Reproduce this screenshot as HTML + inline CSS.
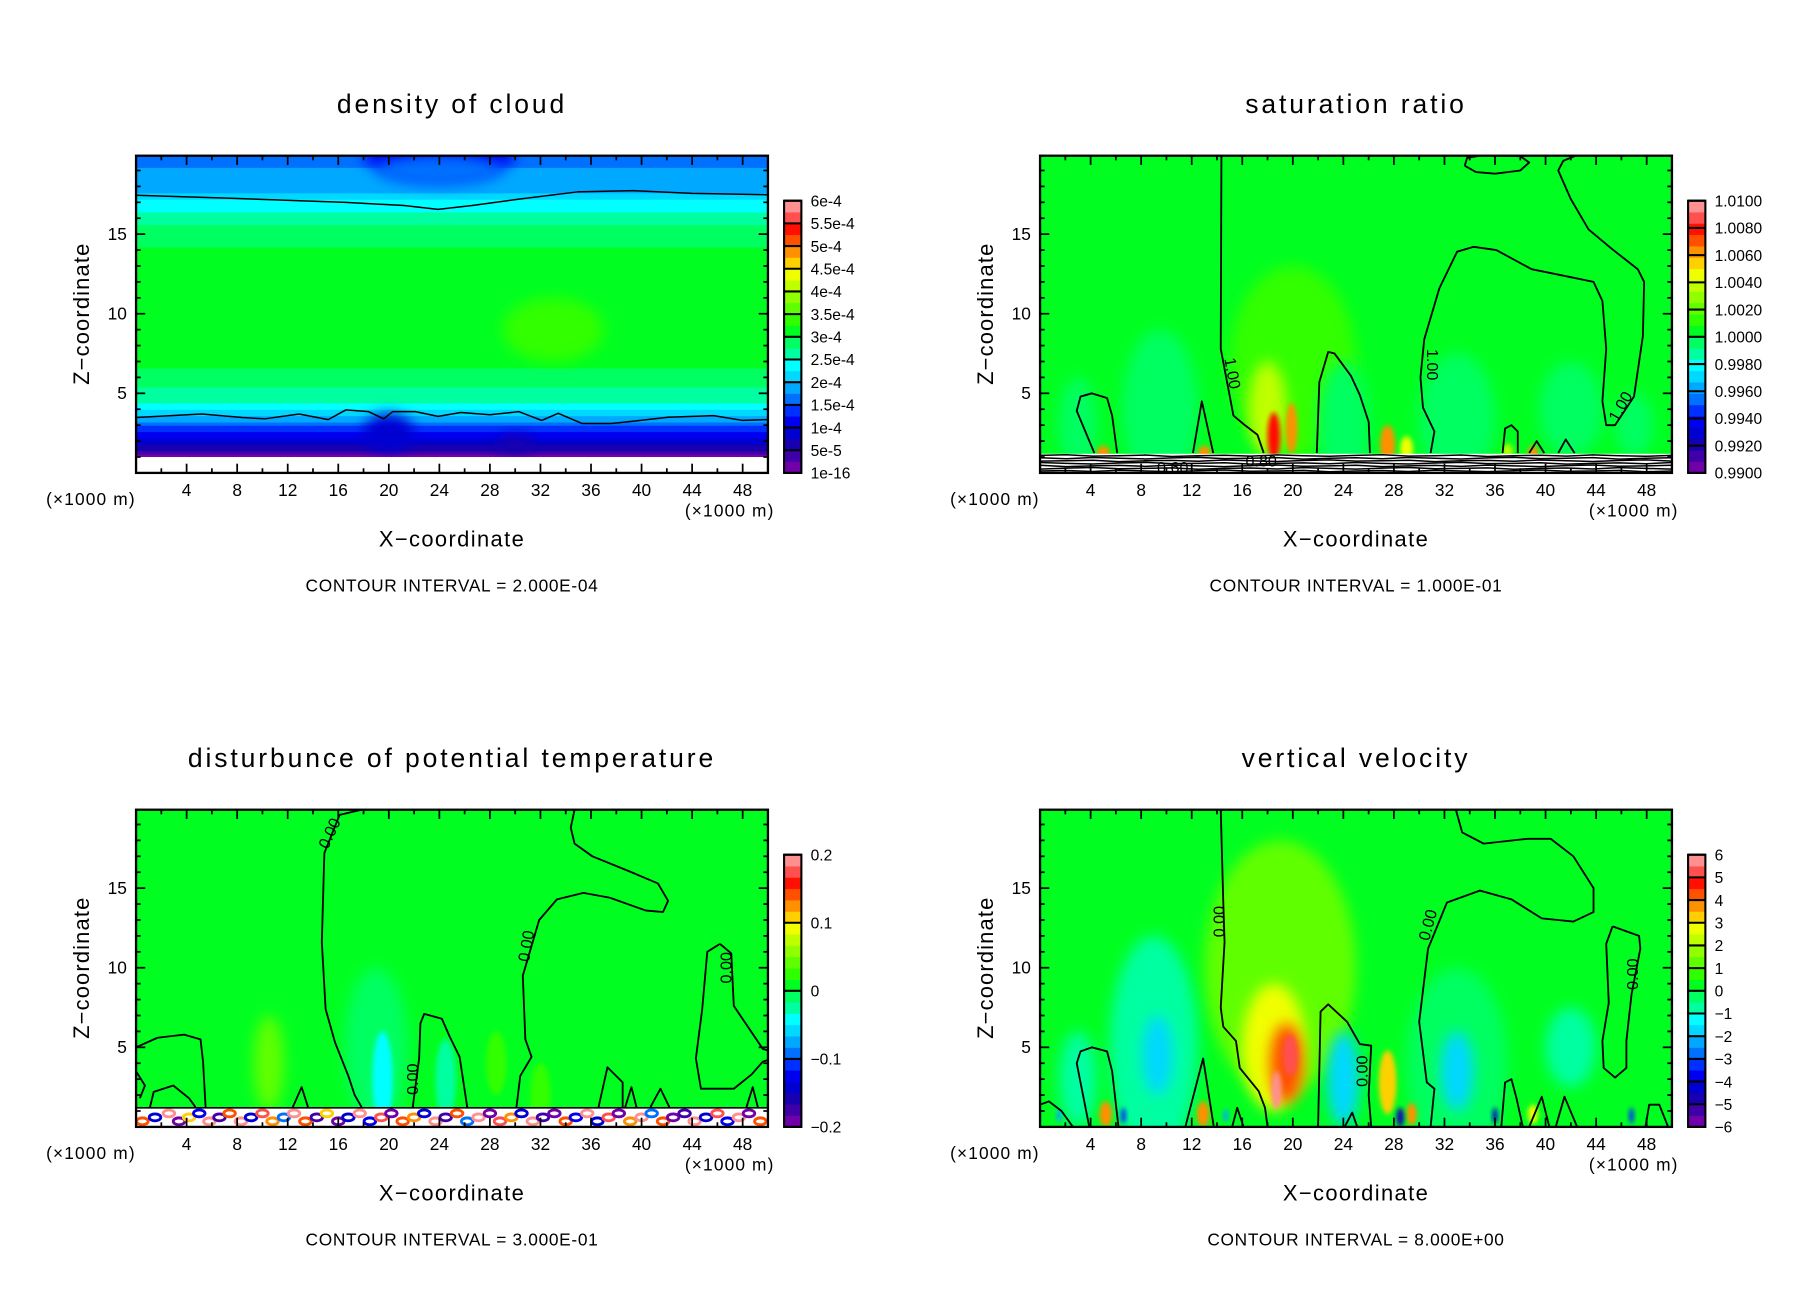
<!DOCTYPE html>
<html><head><meta charset="utf-8"><style>
html,body{margin:0;padding:0;background:#fff;}
svg{display:block;}
text{font-family:"Liberation Sans",sans-serif;fill:#000;}
</style></head><body>
<svg id="chart" width="1808" height="1308" viewBox="0 0 1568 1134" preserveAspectRatio="none" xmlns="http://www.w3.org/2000/svg">
<defs>
<filter id="bl" x="-50%" y="-50%" width="200%" height="200%"><feGaussianBlur stdDeviation="6"/></filter>
<filter id="bs" x="-50%" y="-50%" width="200%" height="200%"><feGaussianBlur stdDeviation="2"/></filter>
</defs>
</svg>
<script>
// ---------- data ----------
const CMAP=['#7000a8','#4000a8','#1800b0','#0000d0','#0000f0','#0030ff','#0070ff','#00a8ff','#00d8ff','#00ffff','#00ffa0','#00ff60','#00ff20','#30ff00','#60ff00','#90ff00','#c0ff00','#f0ff00','#ffd000','#ff9000','#ff5000','#ff1000','#ff5050','#ff9090'];
// panel 1: density of cloud (units 1e-4)
const p1ProfZ=[1.0,1.4,2.0,2.5,3.0,3.5,4.0,5.0,6.0,7.0,8.0,10.0,12.0,14.0,15.0,16.0,17.0,17.5,18.0,19.0,20.0];
const p1ProfV=[0.1,0.5,1.0,1.3,1.6,2.0,2.4,2.7,2.9,3.1,3.2,3.2,3.1,3.0,2.9,2.6,2.3,2.0,1.9,1.75,1.55];
const p1BlobX=[33,24,24,20,30];
const p1BlobZ=[9,20,19,2.5,1.8];
const p1BlobRX=[4,6,5,2,1.5];
const p1BlobRZ=[2,1.5,1,1.2,0.6];
const p1BlobV=[3.45,1.1,1.5,0.9,0.6];
const p1Upper=[[0,17.44],[7.5,17.25],[16.6,17.0],[21.2,16.8],[23.9,16.56],[26.6,16.8],[30.3,17.2],[34.9,17.65],[39.4,17.73],[44,17.56],[50,17.48]];
const p1Lower=[[0,3.48],[5.2,3.7],[8.4,3.48],[10.2,3.4],[12.9,3.7],[15.2,3.35],[16.6,3.96],[18.4,3.85],[19.6,3.4],[20.3,3.85],[22.1,3.85],[23.9,3.55],[25.7,3.8],[28,3.65],[30.3,3.85],[32.1,3.3],[33.4,3.75],[35.3,3.1],[37.6,3.1],[39.4,3.25],[42.1,3.5],[45.7,3.6],[48,3.3],[50,3.35]];
// panel 2: saturation ratio
const p2BlobX=[20,9.5,24,33,42,3,47,18,18.5,19.9,27.5,29,5,13,39,37];
const p2BlobZ=[7,4,3,3.5,4,3,3,4,2.3,2.8,1.8,1.5,1.3,1.3,1.3,1.4];
const p2BlobRX=[5,3,2,3,2.5,1.5,1.5,1.5,0.5,0.45,0.6,0.5,0.5,0.5,0.4,0.4];
const p2BlobRZ=[6,5,4,4,3,3,2,3,1.5,1.6,1.2,0.8,0.4,0.4,0.4,0.4];
const p2BlobV=[1.0012,0.9992,0.9992,0.9992,0.9993,0.9993,0.9993,1.004,1.008,1.006,1.006,1.005,1.006,1.006,1.006,1.004];
const p2Lines=[
 [[14.35,20],[14.3,7.8],[15.3,3.6],[16.2,3],[17.2,2.4],[17.7,1.25]],
 [[21.9,1.25],[22.1,5.7],[22.8,7.6],[23.3,7.5],[24.6,6.1],[25.3,4.9],[26,3.2],[26.1,1.25]],
 [[30.9,1.25],[31.2,2.6],[30.3,4.1],[30.1,6],[30.4,8.4],[31.6,11.6],[33,13.9],[34.3,14.2],[36.1,14.0],[38.9,12.8],[42,12.3],[43.8,12],[44.5,10.8],[44.8,7.8],[44.5,4.5],[44.8,3],[45.5,3],[47,4.8],[47.7,8.6],[47.8,12],[47.3,12.8],[45.2,14.1],[43.4,15.3],[42,17.2],[41,19],[41.4,19.6],[42.6,20]],
 [[33.6,19.3],[34.5,18.9],[36,18.8],[38,19.0],[38.7,19.5],[38,19.9],[35,19.95],[33.8,19.8],[33.6,19.3]],
 [[4.3,1.25],[2.9,3.9],[3.2,4.8],[4.1,5],[5.3,4.7],[5.7,3.6],[6.1,1.25]],
 [[12.1,1.25],[12.8,4.5],[13.7,1.25]],
 [[36.6,1.25],[36.8,2.8],[37.3,3.0],[37.8,2.6],[37.8,1.25]],
 [[38.7,1.25],[39.3,2.0],[39.9,1.25]],
 [[41.0,1.25],[41.6,2.1],[42.3,1.25]]
];
const p2HatchZ=[0.12,0.28,0.44,0.6,0.76,0.92,1.08];
const p2Wiggle=[0,0.03,-0.03,0.05,0,-0.04,0.02,0.06,-0.02,0,0.04,-0.05];
// panel 3: disturbance of potential temperature
const p3BlobX=[10.5,28.5,32,19,19.5,24.5];
const p3BlobZ=[4,4,2,5,3,3];
const p3BlobRX=[1.2,0.8,0.8,2.5,0.8,0.8];
const p3BlobRZ=[3,2,2,5,3,2.5];
const p3BlobV=[0.035,0.03,0.03,-0.015,-0.04,-0.02];
const p3NoiseX=[0.5,1.5,2.6,3.4,4.2,5.0,5.8,6.6,7.4,8.3,9.1,10.0,10.8,11.7,12.5,13.4,14.3,15.1,16.0,16.8,17.7,18.5,19.4,20.2,21.1,22.0,22.8,23.7,24.5,25.4,26.2,27.1,28.0,28.8,29.7,30.5,31.4,32.2,33.1,34.0,34.8,35.7,36.5,37.4,38.2,39.1,40.0,40.8,41.7,42.5,43.4,44.2,45.1,46.0,46.8,47.7,48.5,49.4];
const p3NoiseV=[0.15,-0.15,0.2,-0.2,0.1,-0.12,0.2,-0.18,0.15,0.2,-0.15,0.18,0.12,-0.1,0.2,0.15,-0.18,0.1,-0.2,-0.15,0.2,-0.12,0.18,-0.2,0.15,0.12,-0.15,0.2,-0.18,0.15,-0.1,0.2,-0.2,0.18,0.12,-0.15,0.2,-0.18,-0.2,0.15,-0.12,0.2,-0.15,0.18,-0.2,0.12,0.2,-0.1,0.15,-0.2,-0.18,0.2,-0.15,0.18,-0.12,0.2,-0.2,0.15];
const p3Lines=[
 [[17.85,19.93],[16.1,19.6],[14.9,17.2],[14.7,11.6],[15,7.4],[15.75,5.3],[16.8,3.2],[17.3,2.0],[17.85,1.25]],
 [[26.2,1.25],[25.6,4.4],[24.8,5.7],[24.2,6.8],[22.8,7.1],[22.5,6.5],[22.4,4.3],[22.0,1.9],[21.9,1.25]],
 [[30.1,1.25],[30.4,3.2],[31.3,4.4],[30.8,5.5],[30.6,9.5],[31.9,13],[33.3,14.3],[35.4,14.7],[37.5,14.4],[40.3,13.6],[41.7,13.5],[42.1,14.2],[41.3,15.3],[38.9,16.1],[36.1,17],[34.7,17.8],[34.4,18.8],[34.7,19.93]],
 [[46.2,11.5],[47.1,10.9],[47.3,7.6],[49.6,4.9],[50,4.8]],
 [[50,4.2],[49.6,4.1],[48.7,3.3],[47.3,2.4],[44.7,2.4],[44.3,4.3],[44.8,7.4],[45.2,11],[46.2,11.5]],
 [[0,5],[1.7,5.6],[3.8,5.8],[5.1,5.5],[5.3,4.1],[5.5,1.25]],
 [[1.1,1.25],[1.4,2.2],[2.95,2.6],[4.2,1.8],[4.7,1.25]],
 [[12.4,1.25],[13.1,2.5],[13.6,1.25]],
 [[36.6,1.25],[37.3,3.75],[38.5,2.8],[38.5,1.25]],
 [[38.7,1.25],[39.2,2.5],[39.6,1.25]],
 [[40.7,1.25],[41.5,2.4],[42.2,1.25]],
 [[48.3,1.25],[48.8,2.5],[49.2,1.25]],
 [[0,3.5],[0.7,2.6],[0.3,1.8]]
];
// panel 4: vertical velocity
const p4BlobX=[19,9,9.3,24,33,33,42,3,18.5,19.5,19.8,18.7,27.5,29.4,5.2,12.9,39,6.6,28.5,36,46.8,1.5,14.7];
const p4BlobZ=[10,5,4.5,3,4,3.5,5,3,5,4,4.5,2.3,2.8,0.8,0.8,0.8,0.8,0.7,0.6,0.7,0.7,0.7,0.7];
const p4BlobRX=[6,3.5,1.2,1.3,4,1.3,2,1.5,2.5,1.3,0.6,0.4,0.7,0.4,0.5,0.5,0.4,0.2,0.3,0.2,0.2,0.2,0.2];
const p4BlobRZ=[8,7,2.5,3,6,2.5,2.5,3,4,2.5,1.3,1.2,2,0.7,0.8,0.8,0.6,0.5,0.6,0.5,0.5,0.4,0.4];
const p4BlobV=[1.1,-0.6,-2.0,-1.6,-0.5,-1.6,-0.9,-0.6,2.5,4,5,6,3,3.5,3.5,3.5,2.5,-3.5,-5,-4.5,-3.5,-2.5,-2.5];
const p4Lines=[
 [[14.3,19.93],[14.5,14.1],[14.6,11.6],[14.3,7.5],[14.5,6.3],[15.5,5.4],[15.8,3.7],[17.3,2.25],[17.8,1.2],[18,0]],
 [[22,0],[22.2,7.25],[22.8,7.7],[24.3,6.6],[25.3,5.2],[26.2,5.1],[26.0,2.0],[26.2,0]],
 [[30.9,0],[31.2,2.4],[30.6,2.8],[30,6.6],[30.7,11.2],[32.2,14.1],[34.8,14.85],[37.3,14.3],[39.7,13.1],[42.2,12.9],[43.8,13.5],[43.8,15],[42.2,17],[40.4,18.1],[38.6,18.1],[35.1,17.8],[33.4,18.5],[32.9,19.93]],
 [[45.3,12.6],[47.4,12],[47.5,11.2],[46.8,8.3],[46.4,5.4],[46.4,3.7],[45.5,3.1],[44.6,3.7],[44.5,5.4],[45,7.8],[44.8,11.5],[45.3,12.6]],
 [[0,1.4],[0.7,1.6],[1.7,1.0],[2.6,0]],
 [[3.9,0],[2.9,4.0],[3.2,4.75],[4.1,5],[5.3,4.75],[5.7,3.5],[6.2,0]],
 [[11.5,0],[12.9,4.3],[13.75,0]],
 [[15.2,0],[15.6,1.2],[16.1,0]],
 [[24.1,0],[24.7,0.9],[25.1,0]],
 [[36.5,0],[36.8,2.8],[37.3,3.0],[37.7,1.8],[38.2,0]],
 [[38.7,0],[39.7,1.9],[40.3,0]],
 [[40.8,0],[41.5,1.9],[42.5,0]],
 [[47.9,0],[48.2,1.4],[49,1.4],[49.7,0]]
];

// ---------- helpers ----------
const NS='http://www.w3.org/2000/svg';
const svg=document.getElementById('chart');
const W=548,H=275;
function mk(tag,attrs,parent){const e=document.createElementNS(NS,tag);for(const k in attrs)e.setAttribute(k,attrs[k]);(parent||svg).appendChild(e);return e;}
function cmap(t){let i=Math.floor(t*24);if(i<0)i=0;if(i>23)i=23;return CMAP[i];}
function xs(p,km){return p.ox+km/50*W;}
function zs(p,z){return p.oy+H-z*13.8;}
function txt(s,x,y,size,anchor,parent,extra){const t=mk('text',Object.assign({x:x,y:y,'font-size':size,'text-anchor':anchor||'middle'},extra||{}),parent);t.textContent=s;return t;}

const panels=[
 {key:'cloud-density',ox:118,oy:135,title:'density of cloud',ci:'2.000E-04',bg:3.1,tf:v=>v/6,
  cb:['6e-4','5.5e-4','5e-4','4.5e-4','4e-4','3.5e-4','3e-4','2.5e-4','2e-4','1.5e-4','1e-4','5e-5','1e-16']},
 {key:'saturation-ratio',ox:902,oy:135,title:'saturation ratio',ci:'1.000E-01',bg:1.0003,tf:v=>(v-0.99)/0.02,
  cb:['1.0100','1.0080','1.0060','1.0040','1.0020','1.0000','0.9980','0.9960','0.9940','0.9920','0.9900']},
 {key:'potential-temperature',ox:118,oy:702,title:'disturbunce of potential temperature',ci:'3.000E-01',bg:0.004,tf:v=>(v+0.2)/0.4,
  cb:['0.2','0.1','0','\u22120.1','\u22120.2']},
 {key:'vertical-velocity',ox:902,oy:702,title:'vertical velocity',ci:'8.000E+00',bg:0.1,tf:v=>(v+6)/12,
  cb:['6','5','4','3','2','1','0','\u22121','\u22122','\u22123','\u22124','\u22125','\u22126']}
];

function drawBlobs(p,g,X,Z,RX,RZ,V){
 for(let i=0;i<X.length;i++){
  const e=mk('ellipse',{cx:xs(p,X[i]),cy:zs(p,Z[i]),rx:RX[i]*W/50,ry:RZ[i]*13.8,fill:cmap(p.tf(V[i])),filter:(RX[i]<1?'url(#bs)':'url(#bl)')},g);
  
  
 }
}
function drawLine(p,g,pts,w){
 const d=pts.map((q,i)=>(i?'L':'M')+xs(p,q[0]).toFixed(1)+','+zs(p,q[1]).toFixed(1)).join(' ');
 const e=mk('path',{d:d,fill:'none',stroke:'#000','stroke-width':w||1.6,'stroke-linejoin':'round'},g);
 
 
}
function clabel(p,g,s,x,z,rot){
 const t=txt(s,xs(p,x),zs(p,z),14,'middle',g,{transform:'rotate('+rot+' '+xs(p,x)+' '+zs(p,z)+')'});
 
 
}

panels.forEach((p,pi)=>{
 const g=mk('g',{});
 
 
 const cid='clip'+pi;
 const cp=mk('clipPath',{id:cid},g);mk('rect',{x:p.ox,y:p.oy,width:W,height:H},cp);
 const f=mk('g',{'clip-path':'url(#'+cid+')'},g);
 
 
 mk('rect',{x:p.ox,y:p.oy,width:W,height:H,fill:cmap(p.tf(p.bg))},f);
 if(pi===0){
  mk('rect',{x:p.ox,y:p.oy,width:W,height:H,fill:'#fff'},f);
  for(let z=1.0;z<20;z+=0.2){
   let k=0;while(k<p1ProfZ.length-2&&p1ProfZ[k+1]<z)k++;
   const a=(z-p1ProfZ[k])/(p1ProfZ[k+1]-p1ProfZ[k]);
   const v=p1ProfV[k]+Math.max(0,Math.min(1,a))*(p1ProfV[k+1]-p1ProfV[k]);
   const r=mk('rect',{x:p.ox,y:zs(p,z+0.2)-0.5,width:W,height:0.2*13.8+1,fill:cmap(p.tf(v))},f);
   
   
  }
  drawBlobs(p,f,p1BlobX,p1BlobZ,p1BlobRX,p1BlobRZ,p1BlobV);
  mk('rect',{x:p.ox,y:zs(p,1.0),width:W,height:14,fill:'#fff'},f);
  drawLine(p,f,p1Upper,1.3);drawLine(p,f,p1Lower,1.3);
 }
 if(pi===1){
  drawBlobs(p,f,p2BlobX,p2BlobZ,p2BlobRX,p2BlobRZ,p2BlobV);
  mk('rect',{x:p.ox,y:zs(p,1.2),width:W,height:1.2*13.8,fill:'#fff'},f);
  p2HatchZ.forEach((hz,j)=>{
   const pts=[];for(let i=0;i<=24;i++)pts.push([i*50/24,hz+p2Wiggle[(i+j*5)%p2Wiggle.length]]);
   drawLine(p,f,pts,1.3);
  });
  p2Lines.forEach(l=>drawLine(p,f,l));
  clabel(p,f,'1.00',14.8,6.2,80);clabel(p,f,'1.00',30.6,6.8,90);clabel(p,f,'1.00',46.3,4.0,-60);
  clabel(p,f,'0.60',10.5,0.0,0);clabel(p,f,'0.80',17.5,0.4,0);
 }
 if(pi===2){
  drawBlobs(p,f,p3BlobX,p3BlobZ,p3BlobRX,p3BlobRZ,p3BlobV);
  mk('rect',{x:p.ox,y:zs(p,1.25),width:W,height:1.25*13.8,fill:'#fff'},f);
  for(let i=0;i<p3NoiseX.length;i++){
   const e=mk('ellipse',{cx:xs(p,p3NoiseX[i]),cy:zs(p,0.6+0.25*((i%3)-1)),rx:5,ry:3,fill:'none',stroke:cmap(p.tf(p3NoiseV[i])),'stroke-width':2.5},f);
   
   
  }
  drawLine(p,f,[[0,1.2],[50,1.2]],1.4);
  p3Lines.forEach(l=>drawLine(p,f,l));
  clabel(p,f,'0.00',15.7,18.3,-65);clabel(p,f,'0.00',31.3,11.3,-80);clabel(p,f,'0.00',47.1,10.0,-90);clabel(p,f,'0.00',22.3,3.0,-90);
 }
 if(pi===3){
  drawBlobs(p,f,p4BlobX,p4BlobZ,p4BlobRX,p4BlobRZ,p4BlobV);
  p4Lines.forEach(l=>drawLine(p,f,l));
  clabel(p,f,'0.00',14.6,12.9,-90);clabel(p,f,'0.00',31.1,12.6,-75);clabel(p,f,'0.00',47.3,9.6,-90);clabel(p,f,'0.00',25.9,3.5,-90);
 }
 const fr=mk('rect',{x:p.ox,y:p.oy,width:W,height:H,fill:'none',stroke:'#000','stroke-width':2},g);
 
 
 for(let k=2;k<50;k+=2){
  const L=(k%4===0)?8:4,x=xs(p,k);
  mk('line',{x1:x,y1:p.oy+H,x2:x,y2:p.oy+H-L,stroke:'#000','stroke-width':1.5},g);
  mk('line',{x1:x,y1:p.oy,x2:x,y2:p.oy+L,stroke:'#000','stroke-width':1.5},g);
  if(k%4===0){const t=txt(String(k),x,p.oy+H+20,15,'middle',g);}
 }
 for(let z=1;z<20;z++){
  const L=(z%5===0)?8:4,y=zs(p,z);
  mk('line',{x1:p.ox,y1:y,x2:p.ox+L,y2:y,stroke:'#000','stroke-width':1.5},g);
  mk('line',{x1:p.ox+W,y1:y,x2:p.ox+W-L,y2:y,stroke:'#000','stroke-width':1.5},g);
  if(z%5===0){const t=txt(String(z),p.ox-8,y+5,15,'end',g);}
 }
 let t;
 t=txt(p.title,p.ox+274,p.oy-37,23,'middle',g,{'letter-spacing':'2.5'});
 t=txt('Z\u2212coordinate',0,0,19,'middle',g,{transform:'translate('+(p.ox-41)+','+(p.oy+137)+') rotate(-90)','letter-spacing':'1'});
 t=txt('X\u2212coordinate',p.ox+274,p.oy+339,19,'middle',g,{'letter-spacing':'1.2'});
 t=txt('(\u00d71000 m)',p.ox-78,p.oy+303,15,'start',g,{'letter-spacing':'1'});
 t=txt('(\u00d71000 m)',p.ox+476,p.oy+313,15,'start',g,{'letter-spacing':'1'});
 t=txt('CONTOUR INTERVAL = '+p.ci,p.ox+274,p.oy+378,15,'middle',g,{'letter-spacing':'0.6'});
 const cb=mk('g',{},g);
 
 
 const cx=p.ox+562,cy0=p.oy+39,ch=236;
 for(let i=0;i<24;i++){
  const r=mk('rect',{x:cx,y:cy0+ch-(i+1)*ch/24,width:15,height:ch/24+0.3,fill:CMAP[i]},cb);
  
  
 }
 const n=p.cb.length;
 p.cb.forEach((s,i)=>{
  const y=cy0+i*ch/(n-1);
  mk('line',{x1:cx,y1:y,x2:cx+15,y2:y,stroke:'#000','stroke-width':1.8},cb);
  const l=txt(s,cx+23,y+5,13.5,'start',cb);
 });
 mk('rect',{x:cx,y:cy0,width:15,height:ch,fill:'none',stroke:'#000','stroke-width':1.8},cb);
});
</script>
</body></html>
